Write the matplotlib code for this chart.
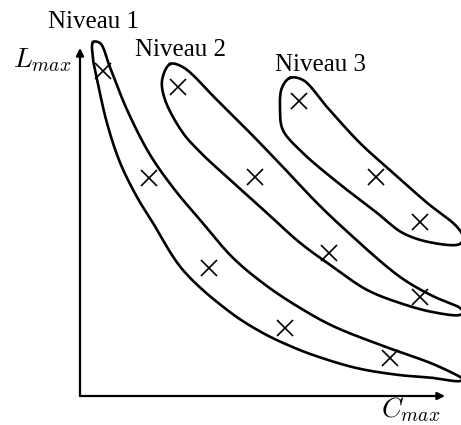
import matplotlib
matplotlib.use("Agg")
import matplotlib.pyplot as plt
import numpy as np

plt.rcParams["font.family"] = ["Liberation Serif", "DejaVu Serif"]
plt.rcParams["mathtext.fontset"] = "cm"

# outlines of the three levels (C_max, L_max)
niv1_x = [0.36, 0.55, 0.82, 1.29, 1.92, 2.60, 3.29, 4.19, 5.12, 6.03, 6.93, 8.30, 9.67, 10.41,
          10.49, 10.41, 9.67, 8.77, 7.59, 6.38, 5.75, 5.01, 4.11, 2.82, 2.00, 1.56, 1.10, 0.74,
          0.47, 0.36]
niv1_y = [10.17, 10.14, 9.45, 8.22, 6.93, 5.92, 5.06, 3.97, 3.16, 2.53, 2.01, 1.44, 0.92, 0.55,
          0.49, 0.43, 0.52, 0.60, 0.80, 1.18, 1.44, 1.81, 2.41, 3.62, 4.97, 5.72, 6.70, 7.84,
          9.08, 9.66]

niv2_x = [2.47, 2.82, 3.75, 4.66, 5.56, 6.49, 7.21, 8.77, 9.67, 10.41, 10.49, 10.41, 9.67,
          8.77, 7.86, 6.93, 6.03, 5.12, 4.11, 3.29, 2.82, 2.33, 2.25]
niv2_y = [9.54, 9.45, 8.51, 7.56, 6.58, 5.55, 4.83, 3.42, 2.87, 2.53, 2.41, 2.33, 2.41,
          2.67, 3.05, 3.71, 4.40, 5.26, 6.21, 7.01, 7.56, 8.51, 9.08]

niv3_x = [5.75, 6.11, 6.77, 7.67, 8.58, 9.51, 10.33, 10.49, 10.41, 9.67, 8.85, 8.14, 7.21,
          6.11, 5.56, 5.48, 5.53]
niv3_y = [9.14, 9.08, 8.30, 7.27, 6.41, 5.55, 4.86, 4.57, 4.37, 4.40, 4.68, 5.26, 6.01,
          6.98, 7.64, 8.22, 8.85]

# solutions (crosses)
sol1_x = [0.63, 1.89, 3.53, 5.62, 8.49]
sol1_y = [9.34, 6.26, 3.68, 1.95, 1.09]
sol2_x = [2.68, 4.79, 6.82, 9.32]
sol2_y = [8.88, 6.29, 4.11, 2.84]
sol3_x = [6.00, 8.11, 9.32]
sol3_y = [8.48, 6.29, 5.00]

labels = ["Niveau 1", "Niveau 2", "Niveau 3"]
label_pos = [(0.36, 10.75), (2.74, 9.94), (6.60, 9.51)]


def closed_spline(xs, ys, n=24, alpha=0.5):
    """Closed centripetal Catmull-Rom curve through the outline points."""
    p = np.column_stack([xs, ys])
    m = len(p)
    out = []
    for i in range(m):
        p0, p1, p2, p3 = p[i - 1], p[i], p[(i + 1) % m], p[(i + 2) % m]
        t0 = 0.0
        t1 = t0 + np.linalg.norm(p1 - p0) ** alpha
        t2 = t1 + np.linalg.norm(p2 - p1) ** alpha
        t3 = t2 + np.linalg.norm(p3 - p2) ** alpha
        t = np.linspace(t1, t2, n, endpoint=False)[:, None]
        a1 = (t1 - t) / (t1 - t0) * p0 + (t - t0) / (t1 - t0) * p1
        a2 = (t2 - t) / (t2 - t1) * p1 + (t - t1) / (t2 - t1) * p2
        a3 = (t3 - t) / (t3 - t2) * p2 + (t - t2) / (t3 - t2) * p3
        b1 = (t2 - t) / (t2 - t0) * a1 + (t - t0) / (t2 - t0) * a2
        b2 = (t3 - t) / (t3 - t1) * a2 + (t - t1) / (t3 - t1) * a3
        out.append((t2 - t) / (t2 - t1) * b1 + (t - t1) / (t2 - t1) * b2)
    out = np.vstack(out + [p[:1]])
    return out[:, 0], out[:, 1]


fig = plt.figure(figsize=(4.61, 4.25), dpi=100)
ax = fig.add_axes([80 / 461, 29 / 425, 365 / 461, 348 / 425])
ax.set_xlim(0, 10)
ax.set_ylim(0, 10)
ax.axis("off")

for xs, ys in [(niv1_x, niv1_y), (niv2_x, niv2_y), (niv3_x, niv3_y)]:
    cx, cy = closed_spline(xs, ys)
    ax.plot(cx, cy, color="k", lw=1.9, clip_on=False)

for xs, ys in [(sol1_x, sol1_y), (sol2_x, sol2_y), (sol3_x, sol3_y)]:
    ax.plot(xs, ys, "x", color="k", ms=12, mew=1.2, clip_on=False)

# axes with arrows
arrow = dict(arrowstyle="-|>", color="k", lw=1.6, mutation_scale=11, shrinkA=0, shrinkB=0)
ax.annotate("", xy=(0, 10), xytext=(0, 0), arrowprops=arrow, annotation_clip=False)
ax.annotate("", xy=(10, 0), xytext=(0, 0), arrowprops=arrow, annotation_clip=False)

ax.text(-1.04, 9.66, r"$L_{max}$", fontsize=20, ha="center", va="center")
ax.text(9.07, -0.40, r"$C_{max}$", fontsize=20, ha="center", va="center")

for lab, (x, y) in zip(labels, label_pos):
    ax.text(x, y, lab, fontsize=18, ha="center", va="center")

fig.savefig("out.png", dpi=100)
